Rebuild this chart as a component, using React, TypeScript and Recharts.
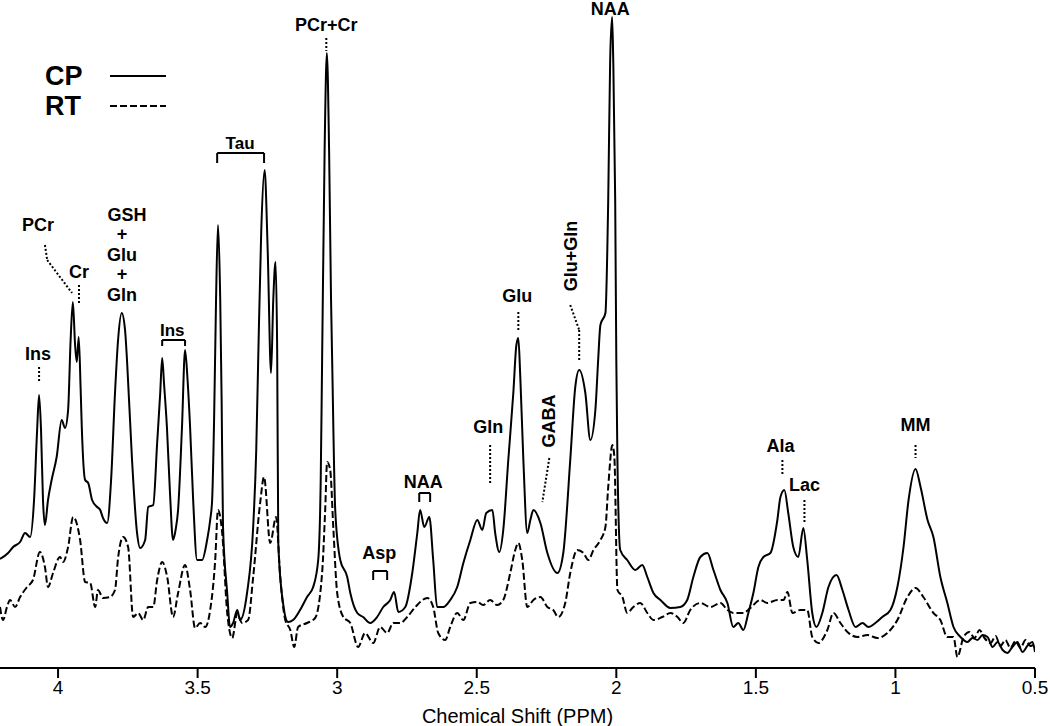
import { LineChart, Line, XAxis, YAxis, ReferenceLine, ReferenceDot, Legend } from 'recharts'

// chemical shift (ppm) and signal (a.u.)
const cpShift = [
  4.208, 4.179, 4.161, 4.136, 4.118, 4.1, 4.086, 4.075, 4.068, 4.061,
  4.054, 4.047, 4.036, 4.023, 4.005, 3.987, 3.975, 3.964, 3.955, 3.947,
  3.939, 3.933, 3.926, 3.919, 3.915, 3.903, 3.892, 3.878, 3.86, 3.849,
  3.839, 3.824, 3.81, 3.796, 3.785, 3.772, 3.76, 3.753, 3.735, 3.717,
  3.706, 3.688, 3.677, 3.659, 3.645, 3.634, 3.627, 3.62, 3.61, 3.599,
  3.588, 3.579, 3.57, 3.556, 3.545, 3.536, 3.527, 3.516, 3.502, 3.484,
  3.466, 3.455, 3.448, 3.441, 3.434, 3.427, 3.419, 3.414, 3.409, 3.394,
  3.384, 3.373, 3.358, 3.348, 3.323, 3.301, 3.29, 3.283, 3.272, 3.26,
  3.249, 3.237, 3.229, 3.221, 3.215, 3.211, 3.194, 3.176, 3.158, 3.133,
  3.108, 3.086, 3.068, 3.059, 3.054, 3.045, 3.037, 3.029, 3.022, 3.018,
  3.007, 2.989, 2.964, 2.953, 2.928, 2.907, 2.882, 2.857, 2.835, 2.81,
  2.796, 2.781, 2.756, 2.731, 2.713, 2.703, 2.688, 2.67, 2.656, 2.642,
  2.62, 2.595, 2.57, 2.548, 2.523, 2.498, 2.48, 2.466, 2.444, 2.434,
  2.419, 2.405, 2.387, 2.369, 2.358, 2.351, 2.344, 2.333, 2.319, 2.308,
  2.297, 2.272, 2.247, 2.211, 2.19, 2.165, 2.147, 2.133, 2.111, 2.093,
  2.075, 2.065, 2.057, 2.039, 2.029, 2.022, 2.015, 2.011, 2.004, 2.0,
  1.996, 1.986, 1.961, 1.932, 1.907, 1.889, 1.867, 1.842, 1.806, 1.771,
  1.746, 1.724, 1.699, 1.674, 1.652, 1.627, 1.602, 1.581, 1.563, 1.545,
  1.527, 1.509, 1.491, 1.473, 1.448, 1.423, 1.412, 1.398, 1.384, 1.366,
  1.348, 1.33, 1.316, 1.298, 1.283, 1.262, 1.24, 1.211, 1.19, 1.168,
  1.143, 1.118, 1.097, 1.072, 1.047, 1.018, 0.993, 0.971, 0.953, 0.928,
  0.91, 0.885, 0.864, 0.839, 0.814, 0.792,
  0.767, 0.742, 0.724, 0.706, 0.688, 0.67, 0.652, 0.634, 0.616, 0.599,
  0.581, 0.563, 0.545, 0.525, 0.509, 0.5,
]
const cpSignal = [
  109, 115, 121, 126, 135, 131, 168, 238, 273, 238,
  168, 143, 168, 188, 211, 248, 240, 258, 328, 366,
  323, 306, 331, 278, 241, 188, 185, 168, 161, 158,
  150, 145, 188, 275, 328, 355, 338, 308, 208, 135,
  120, 128, 161, 163, 225, 275, 310, 283, 241, 175,
  128, 138, 158, 241, 318, 288, 241, 168, 108, 108,
  128, 148, 168, 248, 368, 443, 368, 268, 141, 75,
  41, 45, 58, 48, 75, 141, 218, 308, 438, 498,
  418, 295, 368, 406, 318, 125, 65, 46, 48, 58,
  71, 81, 108, 188, 308, 518, 615, 518, 368, 308,
  158, 108, 91, 75, 55, 51, 45, 51, 61, 68,
  76, 56, 61, 95, 135, 158, 141, 151, 108, 61,
  61, 68, 81, 105, 128, 148, 138, 155, 158, 135,
  116, 138, 208, 275, 323, 330, 291, 208, 135, 148,
  158, 145, 115, 95, 115, 208, 281, 298, 275, 228,
  258, 308, 343, 355, 468, 608, 651, 608, 468, 308,
  208, 118, 108, 98, 103, 91, 75, 68, 60, 61,
  68, 91, 111, 115, 98, 78, 65, 41, 45, 38,
  55, 75, 101, 111, 115, 148, 171, 178, 155, 121,
  111, 140, 108, 55, 41, 55, 81, 93, 78, 58,
  41, 45, 41, 45, 51, 58, 81, 121, 168, 199,
  181, 148, 131, 91, 65, 41,
  31, 26, 30, 28, 33, 31, 21, 26, 18, 15,
  21, 26, 16, 23, 26, 16,
]

const rtShift = [
  4.208, 4.197, 4.183, 4.172, 4.154, 4.136, 4.111, 4.09, 4.065, 4.047,
  4.036, 4.018, 3.993, 3.982, 3.964, 3.946, 3.921, 3.903, 3.885, 3.867,
  3.857, 3.839, 3.814, 3.796, 3.785, 3.767, 3.749, 3.731, 3.713, 3.695,
  3.677, 3.659, 3.645, 3.627, 3.609, 3.588, 3.57, 3.545, 3.527, 3.509,
  3.491, 3.473, 3.455, 3.437, 3.427, 3.412, 3.394, 3.376, 3.358, 3.341,
  3.319, 3.301, 3.276, 3.262, 3.24, 3.219, 3.204, 3.186, 3.168, 3.154,
  3.14, 3.108, 3.079, 3.054, 3.043, 3.036, 3.025, 3.014, 3.0, 2.978,
  2.953, 2.925, 2.9, 2.871, 2.846, 2.821, 2.799, 2.774, 2.749, 2.72,
  2.677, 2.656, 2.638, 2.613, 2.595, 2.57, 2.548, 2.523, 2.498, 2.477,
  2.452, 2.427, 2.405, 2.38, 2.362, 2.351, 2.337, 2.319, 2.297, 2.272,
  2.247, 2.226, 2.208, 2.183, 2.165, 2.14, 2.118, 2.1, 2.082, 2.057,
  2.039, 2.029, 2.014, 2.007, 1.996, 1.978, 1.961, 1.939, 1.914, 1.889,
  1.867, 1.835, 1.806, 1.781, 1.76, 1.735, 1.699, 1.663, 1.627, 1.602,
  1.581, 1.545, 1.52, 1.484, 1.459, 1.423, 1.401, 1.387, 1.369, 1.341,
  1.316, 1.298, 1.276, 1.244, 1.222, 1.197, 1.168, 1.136, 1.1, 1.065,
  1.029, 0.993, 0.957, 0.928, 0.9, 0.864, 0.839, 0.814, 0.792, 0.778,
  0.756, 0.735, 0.717, 0.699, 0.681, 0.659, 0.641, 0.624, 0.606, 0.588,
  0.57, 0.552, 0.534, 0.516, 0.5,
]
const rtSignal = [
  61, 48, 61, 68, 61, 71, 81, 88, 116, 101,
  81, 95, 111, 106, 121, 151, 128, 86, 85, 61,
  78, 70, 71, 78, 110, 131, 121, 51, 55, 48,
  61, 61, 88, 106, 91, 51, 75, 103, 78, 40,
  45, 41, 58, 108, 158, 135, 55, 30, 55, 45,
  48, 91, 165, 191, 125, 151, 91, 48, 38, 21,
  41, 45, 50, 95, 158, 206, 198, 141, 75, 51,
  45, 21, 35, 25, 41, 35, 45, 45, 51, 61,
  70, 61, 35, 28, 41, 55, 48, 65, 66, 63,
  68, 63, 68, 95, 118, 125, 108, 61, 68, 71,
  61, 58, 51, 65, 95, 118, 115, 108, 118, 128,
  141, 181, 223, 211, 78, 71, 55, 61, 65, 55,
  48, 51, 55, 51, 45, 58, 65, 61, 65, 58,
  55, 55, 60, 68, 65, 68, 68, 76, 55, 58,
  58, 31, 25, 38, 55, 45, 35, 31, 33, 30,
  35, 48, 71, 80, 71, 55, 48, 31, 31, 11,
  31, 36, 30, 38, 30, 25, 32, 22, 28, 20,
  27, 20, 28, 22, 25,
]

const shiftTicks = [4, 3.5, 3, 2.5, 2, 1.5, 1, 0.5]

// metabolite names: position in ppm / signal units
const peakTags = [
  { text: 'PCr+Cr', shift: 3.039, level: 643 },
  { text: 'NAA', shift: 2.022, level: 659 },
  { text: 'Tau', shift: 3.348, level: 525, narrow: true },
  { text: 'PCr', shift: 4.072, level: 443 },
  { text: 'Cr', shift: 3.925, level: 396 },
  { text: 'GSH', shift: 3.753, level: 453 },
  { text: '+', shift: 3.771, level: 434 },
  { text: 'Glu', shift: 3.771, level: 413 },
  { text: '+', shift: 3.771, level: 394 },
  { text: 'Gln', shift: 3.771, level: 373 },
  { text: 'Ins', shift: 3.591, level: 338, narrow: true },
  { text: 'Ins', shift: 4.072, level: 314 },
  { text: 'Asp', shift: 2.849, level: 115 },
  { text: 'NAA', shift: 2.692, level: 186 },
  { text: 'Gln', shift: 2.459, level: 241 },
  { text: 'GABA', shift: 2.244, level: 247, angle: -90 },
  { text: 'Glu', shift: 2.355, level: 372 },
  { text: 'Glu+Gln', shift: 2.165, level: 412, angle: -90 },
  { text: 'Ala', shift: 1.412, level: 222 },
  { text: 'Lac', shift: 1.326, level: 183 },
  { text: 'MM', shift: 0.928, level: 243 },
]

// dotted leaders: [shift1, level1, shift2, level2]
const leaders = [
  [3.039, 630, 3.039, 617],
  [4.047, 423, 4.039, 408],
  [4.039, 408, 3.95, 375],
  [3.925, 383, 3.925, 363],
  [4.068, 301, 4.068, 285],
  [2.452, 223, 2.452, 183],
  [2.24, 210, 2.265, 166],
  [2.351, 356, 2.351, 338],
  [2.165, 363, 2.133, 338],
  [2.133, 338, 2.133, 308],
  [1.405, 208, 1.405, 193],
  [1.326, 168, 1.326, 146],
  [0.928, 223, 0.928, 210],
]

// brackets: from / to shift, level and drop
const brackets = [
  { from: 3.43, to: 3.262, level: 515, drop: 10 },
  { from: 3.627, to: 3.545, level: 328, drop: 6 },
  { from: 2.871, to: 2.821, level: 97, drop: 9 },
  { from: 2.706, to: 2.667, level: 175, drop: 9 },
]

const series = [
  { name: 'CP', dash: undefined as string | undefined, data: cpShift.map((s, i) => ({ shift: s, signal: cpSignal[i] })) },
  { name: 'RT', dash: '7 3', data: rtShift.map((s, i) => ({ shift: s, signal: rtSignal[i] })) },
]

const FONT = '"Liberation Sans", Arial, Helvetica, sans-serif'
const NARROW = '"Liberation Sans Narrow", "Arial Narrow", "Liberation Sans", Arial, sans-serif'

function LegendBox() {
  return (
    <div style={{ fontFamily: FONT, fontWeight: 'bold', fontSize: 27, color: '#000' }}>
      {series.map((s) => (
        <div key={s.name} style={{ display: 'flex', alignItems: 'center', height: 30 }}>
          <span style={{ width: 65, lineHeight: '30px' }}>{s.name}</span>
          <svg width={56} height={6}>
            <line x1={0} y1={3} x2={56} y2={3} stroke="#000" strokeWidth={2} strokeDasharray={s.dash} />
          </svg>
        </div>
      ))}
    </div>
  )
}

export default function App() {
  return (
    <div style={{ position: 'absolute', left: 0, top: 0, background: '#fff' }}>
      <LineChart width={1050} height={726} margin={{ top: 0, right: 15, bottom: 0, left: 0 }}>
        <XAxis
          type="number"
          dataKey="shift"
          domain={[0.5, 4.208]}
          reversed
          ticks={shiftTicks}
          allowDataOverflow
          height={58}
          stroke="#000"
          strokeWidth={2}
          tickSize={10}
          tickMargin={3}
          tick={{ fill: '#000', fontSize: 19, fontFamily: FONT }}
          label={{ value: 'Chemical Shift (PPM)', position: 'insideBottom', offset: 3, fill: '#000', fontSize: 20, fontFamily: FONT }}
        />
        <YAxis hide domain={[0, 668]} allowDataOverflow />
        <Legend
          verticalAlign="middle"
          align="center"
          content={() => <LegendBox />}
          wrapperStyle={{ left: 45, top: 61, width: 140 }}
        />
        {series.map((s) => (
          <Line
            key={s.name}
            name={s.name}
            data={s.data}
            dataKey="signal"
            type="monotone"
            stroke="#000"
            strokeWidth={2}
            strokeDasharray={s.dash}
            dot={false}
            activeDot={false}
            isAnimationActive={false}
          />
        ))}
        {leaders.map((l, i) => (
          <ReferenceLine
            key={'ld' + i}
            segment={[{ x: l[0], y: l[1] }, { x: l[2], y: l[3] }]}
            stroke="#000"
            strokeWidth={2}
            strokeDasharray="2 2"
            ifOverflow="visible"
          />
        ))}
        {brackets.flatMap((b, i) => [
          <ReferenceLine key={'bh' + i} segment={[{ x: b.from, y: b.level }, { x: b.to, y: b.level }]} stroke="#000" strokeWidth={2} ifOverflow="visible" />,
          <ReferenceLine key={'bl' + i} segment={[{ x: b.from, y: b.level }, { x: b.from, y: b.level - b.drop }]} stroke="#000" strokeWidth={2} ifOverflow="visible" />,
          <ReferenceLine key={'br' + i} segment={[{ x: b.to, y: b.level }, { x: b.to, y: b.level - b.drop }]} stroke="#000" strokeWidth={2} ifOverflow="visible" />,
        ])}
        {peakTags.map((t, i) => (
          <ReferenceDot
            key={'tag' + i}
            x={t.shift}
            y={t.level}
            r={1}
            fill="none"
            stroke="none"
            ifOverflow="visible"
            label={{
              value: t.text,
              position: 'center',
              fill: '#000',
              fontSize: t.narrow ? 17 : 18,
              fontWeight: 'bold',
              fontFamily: t.narrow ? NARROW : FONT,
              angle: t.angle,
            }}
          />
        ))}
      </LineChart>
    </div>
  )
}
